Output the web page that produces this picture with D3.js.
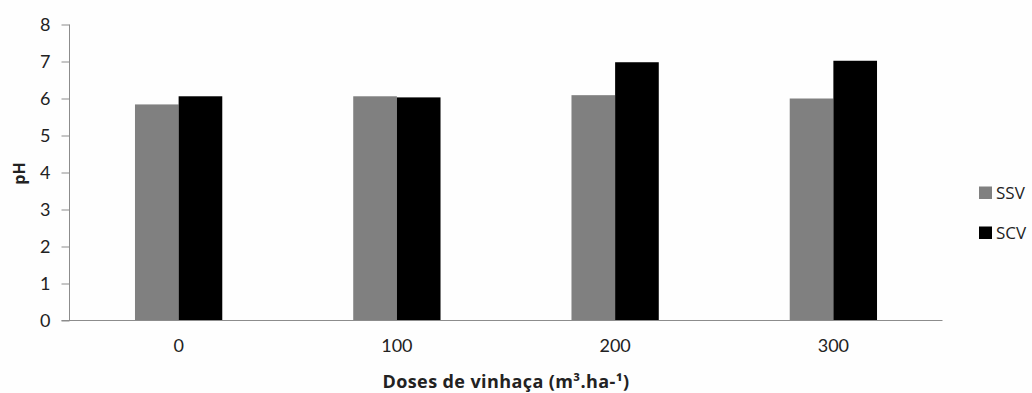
<!DOCTYPE html>
<html>
<head>
<meta charset="utf-8">
<script src="https://cdn.jsdelivr.net/npm/d3@7"></script>
<style>
  html, body { margin: 0; padding: 0; background: #fefefe; }
  svg { display: block; }
  text { font-family: "Open Sans", Lato, sans-serif; fill: #222; }
</style>
</head>
<body>
<svg id="chart" width="1032" height="393"></svg>
<script>
// Vinasse dose levels (m³/ha)
const doses = ["0", "100", "200", "300"];
// Soil pH without vinasse (SSV) and with vinasse (SCV)
const ssv = [5.84, 6.06, 6.09, 6.00];
const scv = [6.06, 6.03, 6.98, 7.02];
const seriesNames = ["SSV", "SCV"];
const seriesColors = ["#808080", "#000000"];
const yTicks = [0, 1, 2, 3, 4, 5, 6, 7, 8];

const svg = d3.select("#chart");
const margin = { left: 69.5, right: 89.5, top: 24.5, bottom: 72.5 };
const W = 1032, H = 393;

const x = d3.scaleBand().domain(doses).range([margin.left, W - margin.right]).paddingInner(0).paddingOuter(0);
const inner = d3.scaleBand().domain(seriesNames).range([0, x.bandwidth()]).paddingInner(0).paddingOuter(1.5);
const y = d3.scaleLinear().domain([0, 8]).range([H - margin.bottom, margin.top]);

// y axis
const yAxis = svg.append("g")
  .attr("transform", `translate(${margin.left},0)`)
  .call(d3.axisLeft(y).tickValues(yTicks).tickSize(8).tickPadding(11).tickFormat(d3.format("d")));
yAxis.selectAll("line, path").attr("stroke", "#8c8c8c");
yAxis.select(".domain").attr("d", `M0,${y(8)}V${y(0)}`);
yAxis.selectAll("text").attr("font-size", 18).attr("fill", "#222").style("font-family", "Lato, sans-serif");

// bars
const data = doses.map((d, i) => ({ dose: d, values: [ssv[i], scv[i]] }));
const groups = svg.append("g").selectAll("g").data(data).join("g")
  .attr("transform", d => `translate(${x(d.dose)},0)`);
groups.selectAll("rect")
  .data(d => d.values.map((v, j) => ({ name: seriesNames[j], value: v, color: seriesColors[j] })))
  .join("rect")
  .attr("x", d => inner(d.name))
  .attr("width", inner.bandwidth())
  .attr("y", d => y(d.value))
  .attr("height", d => y(0) - y(d.value))
  .attr("fill", d => d.color);

// x axis
const xAxis = svg.append("g")
  .attr("transform", `translate(0,${y(0)})`)
  .call(d3.axisBottom(x).tickSize(0).tickPadding(19));
xAxis.select(".domain").attr("stroke", "#8c8c8c").attr("d", `M${margin.left - 8},0H${W - margin.right}`);
xAxis.selectAll("text").attr("font-size", 18).attr("fill", "#222").style("font-family", "Lato, sans-serif");

// axis titles
svg.append("text")
  .attr("x", (margin.left + W - margin.right) / 2)
  .attr("y", 388)
  .attr("text-anchor", "middle")
  .attr("font-size", 18)
  .attr("letter-spacing", 0.4)
  .attr("font-weight", "bold")
  .text("Doses de vinhaça (m³.ha-¹)");

svg.append("text")
  .attr("transform", `translate(25,${y(4) + 1}) rotate(-90)`)
  .attr("text-anchor", "middle")
  .attr("font-size", 16)
  .attr("font-weight", "bold")
  .text("pH");

// legend
const legend = svg.append("g").selectAll("g").data(seriesNames).join("g")
  .attr("transform", (d, i) => `translate(979,${186.5 + i * 40})`);
legend.append("rect").attr("width", 13).attr("height", 12.5)
  .attr("fill", (d, i) => seriesColors[i]);
legend.append("text").attr("x", 17).attr("y", 12.5)
  .attr("font-size", 17).text(d => d);
</script>
</body>
</html>
